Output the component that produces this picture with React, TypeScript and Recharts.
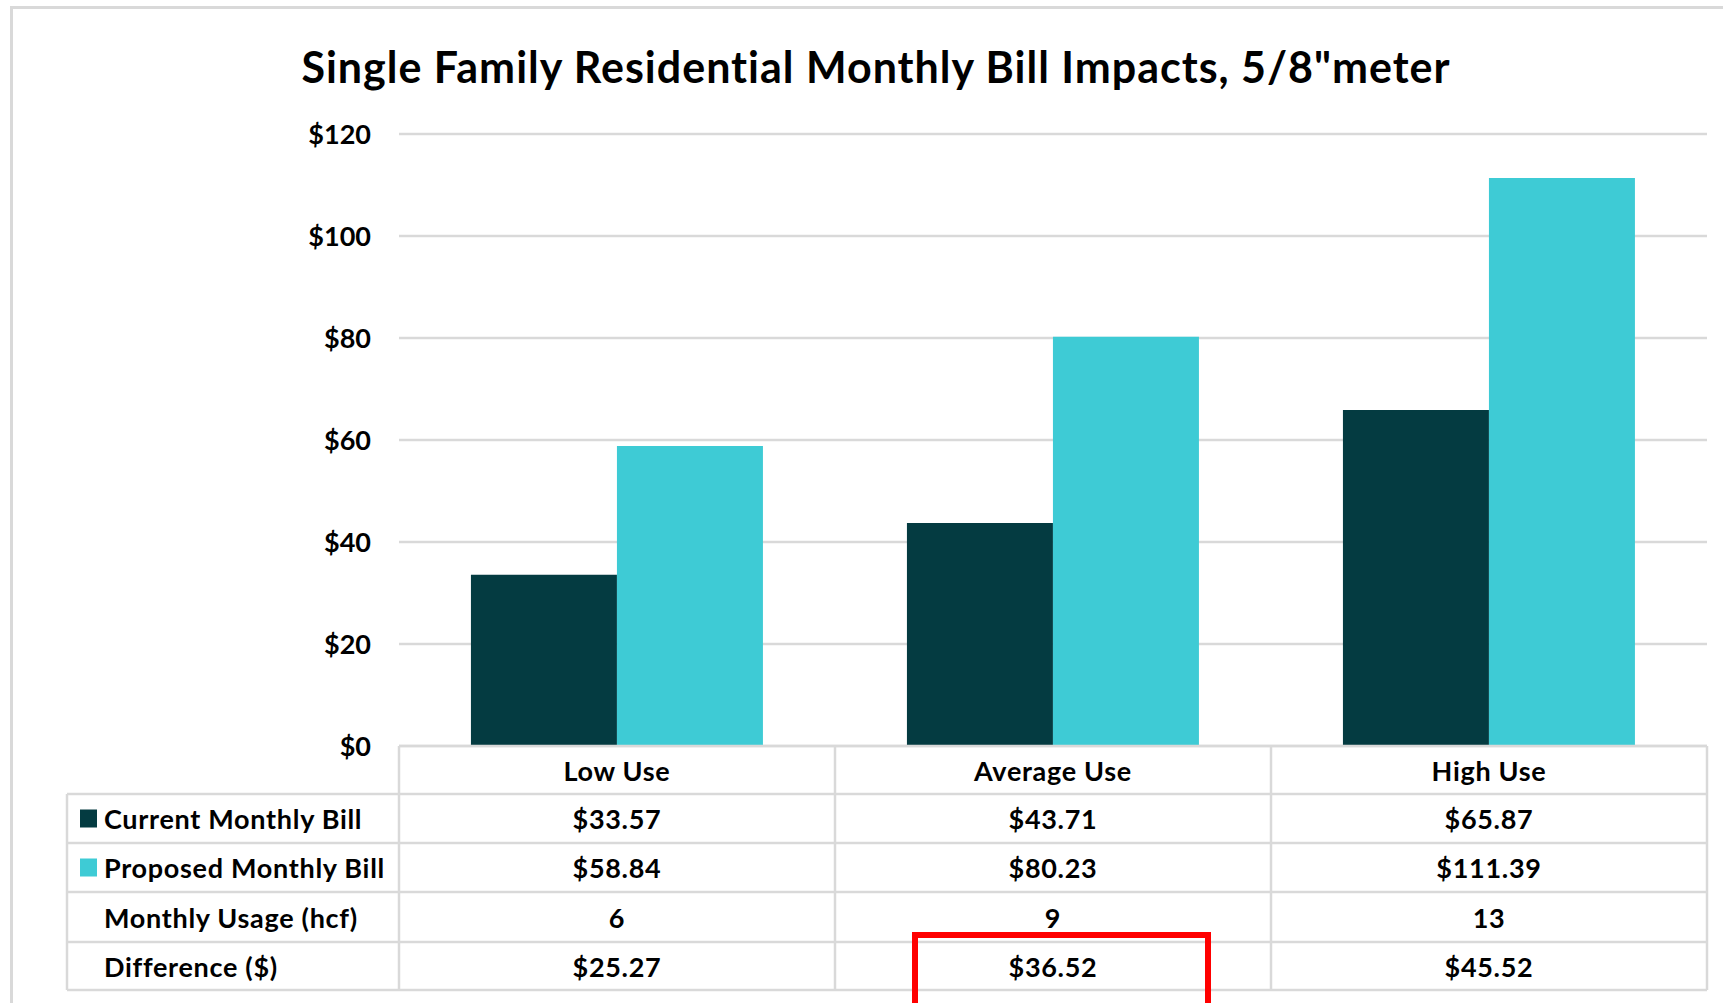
import { BarChart, Bar, XAxis, YAxis, CartesianGrid } from "recharts";

const categories = ["Low Use", "Average Use", "High Use"];
const currentBill = [33.57, 43.71, 65.87];
const proposedBill = [58.84, 80.23, 111.39];
const monthlyUsage = [6, 9, 13];
const difference = [25.27, 36.52, 45.52];
const yTicks = [0, 20, 40, 60, 80, 100, 120];
const highlightCategory = "Average Use";

const DARK = "#043B41";
const TEAL = "#3ECBD5";
const GRID = "#D9D9D9";
const FONT = "Lato, Carlito, Calibri, sans-serif";

const CHART_W = 1723;
const CHART_H = 1003;
const Y_AXIS_W = 399;
const MARGIN_RIGHT = 16;
const COL_W = (CHART_W - Y_AXIS_W - MARGIN_RIGHT) / categories.length;
const LABEL_LEFT = 67;
// row edges, relative to the top of the table
const ROW_EDGES = [0, 48, 97, 146, 196, 244];

const money = (v: number) => `$${v.toFixed(2)}`;

const data = categories.map((category, i) => ({
  category,
  current: currentBill[i],
  proposed: proposedBill[i],
}));

const tableRows = [
  { label: "Current Monthly Bill", color: DARK, values: currentBill.map(money) },
  { label: "Proposed Monthly Bill", color: TEAL, values: proposedBill.map(money) },
  { label: "Monthly Usage (hcf)", color: null, values: monthlyUsage.map(String) },
  { label: "Difference ($)", color: null, values: difference.map(money) },
];

const cellText = {
  fontSize: 27,
  fontWeight: 700,
  fill: "#000",
  fontFamily: FONT,
  letterSpacing: 0.7,
};

const TableTick = (props: any) => {
  const { x, y, payload } = props;
  const i = categories.indexOf(payload.value);
  const left = x - COL_W / 2;
  const right = x + COL_W / 2;
  const mid = (r: number) => y + (ROW_EDGES[r] + ROW_EDGES[r + 1]) / 2;
  const bottom = y + ROW_EDGES[ROW_EDGES.length - 1];

  return (
    <g>
      {ROW_EDGES.map((e, k) => (
        <line key={`h${k}`} x1={left} x2={right} y1={y + e} y2={y + e} stroke={GRID} strokeWidth={2.5} />
      ))}
      <line x1={right} x2={right} y1={y} y2={bottom} stroke={GRID} strokeWidth={2.5} />
      {i === 0 && (
        <g>
          <line x1={left} x2={left} y1={y} y2={bottom} stroke={GRID} strokeWidth={2.5} />
          <line x1={LABEL_LEFT} x2={LABEL_LEFT} y1={y + ROW_EDGES[1]} y2={bottom} stroke={GRID} strokeWidth={2.5} />
          {ROW_EDGES.slice(1).map((e, k) => (
            <line key={`l${k}`} x1={LABEL_LEFT} x2={left} y1={y + e} y2={y + e} stroke={GRID} strokeWidth={2.5} />
          ))}
          {tableRows.map((row, r) => (
            <g key={row.label}>
              {row.color && <rect x={80} y={mid(r + 1) - 9} width={17} height={18} fill={row.color} />}
              <text x={104} y={mid(r + 1)} dominantBaseline="central" {...cellText}>
                {row.label}
              </text>
            </g>
          ))}
        </g>
      )}
      <text x={x} y={mid(0)} textAnchor="middle" dominantBaseline="central" {...cellText}>
        {payload.value}
      </text>
      {tableRows.map((row, r) => (
        <text key={row.label} x={x} y={mid(r + 1)} textAnchor="middle" dominantBaseline="central" {...cellText}>
          {row.values[i]}
        </text>
      ))}
      {payload.value === highlightCategory && (
        <rect x={x - 138} y={y + 189} width={293} height={200} fill="none" stroke="#FF0000" strokeWidth={6} />
      )}
    </g>
  );
};

export default function App() {
  return (
    <div
      style={{
        position: "absolute",
        left: 0,
        top: 0,
        width: CHART_W,
        height: CHART_H,
        overflow: "hidden",
        background: "#fff",
        fontFamily: FONT,
      }}
    >
      <div
        style={{
          position: "absolute",
          left: 10,
          top: 6,
          width: 1800,
          height: 1100,
          border: `3px solid ${GRID}`,
        }}
      />
      <div
        style={{
          position: "absolute",
          left: 876,
          top: 45,
          transform: "translateX(-50%)",
          whiteSpace: "nowrap",
          fontSize: 43,
          lineHeight: "43px",
          letterSpacing: 1,
          fontWeight: 700,
          color: "#000",
        }}
      >
        Single Family Residential Monthly Bill Impacts, 5/8"meter
      </div>
      <div style={{ position: "absolute", left: 0, top: 0 }}>
        <BarChart
          width={CHART_W}
          height={CHART_H}
          data={data}
          margin={{ top: 134, right: MARGIN_RIGHT, bottom: 0, left: 0 }}
          barCategoryGap="16.5%"
          barGap={0}
        >
          <CartesianGrid vertical={false} stroke={GRID} strokeWidth={2.5} />
          <YAxis
            width={Y_AXIS_W}
            domain={[0, 120]}
            ticks={yTicks}
            tickFormatter={(v: number) => `$${v}`}
            axisLine={false}
            tickLine={false}
            tickSize={0}
            tickMargin={28}
            tick={{ fontSize: 27, fontWeight: 700, fill: "#000", fontFamily: FONT }}
          />
          <XAxis
            dataKey="category"
            height={257}
            axisLine={false}
            tickLine={false}
            tickSize={0}
            tickMargin={0}
            interval={0}
            tick={<TableTick />}
          />
          <Bar dataKey="current" fill={DARK} isAnimationActive={false} />
          <Bar dataKey="proposed" fill={TEAL} isAnimationActive={false} />
        </BarChart>
      </div>
    </div>
  );
}
